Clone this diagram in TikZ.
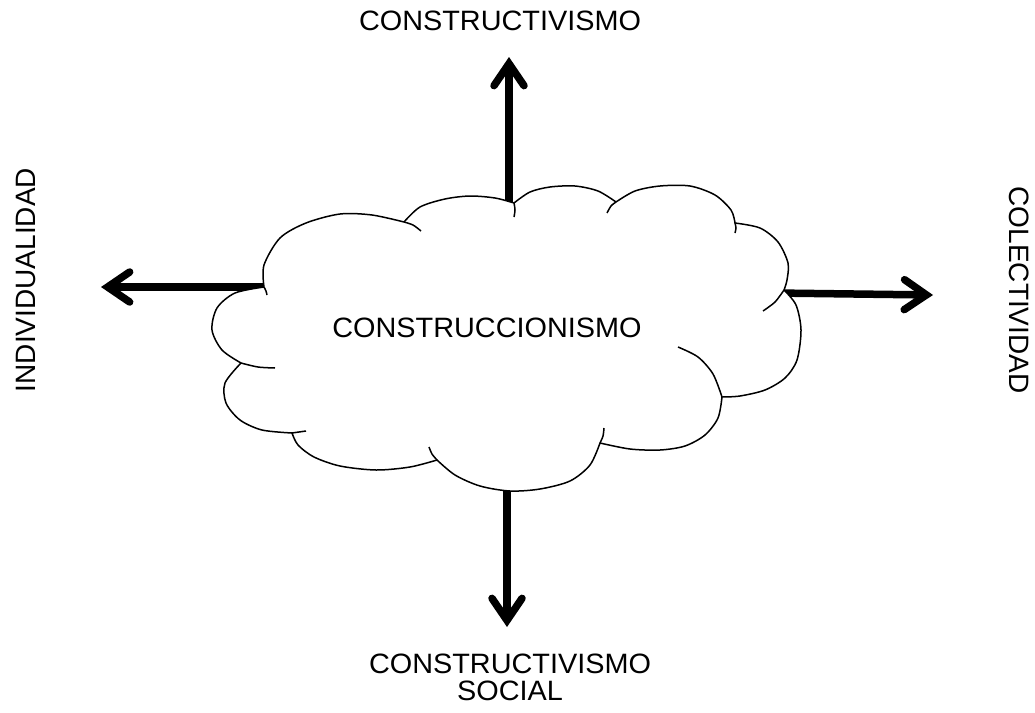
\documentclass[tikz,border=0pt]{standalone}
\usepackage{fontspec}
\setmainfont{Liberation Sans}
\usetikzlibrary{arrows.meta}
\tikzset{
  arr/.style={line width=7.5pt, line cap=round,
    -{Straight Barb[length=22pt,width=30pt,line cap=round,line join=miter]}},
  cloudline/.style={line width=1.5pt, line join=round},
  lbl/.style={inner sep=0pt, font=\fontsize{28pt}{27pt}\selectfont, align=center},
  vlbl/.style={inner sep=0pt, font=\fontsize{28pt}{27pt}\selectfont},
}
\begin{document}
\begin{tikzpicture}[x=1pt,y=-1pt]
\useasboundingbox (0,0) rectangle (1035,712);
% arrow end points
\coordinate (upS) at (509,215);
\coordinate (upT) at (509,57);
\coordinate (dnS) at (507,475);
\coordinate (dnT) at (507,627);
\coordinate (lfS) at (275,287);
\coordinate (lfT) at (101,287);
\coordinate (rtS) at (775,293);
\coordinate (rtT) at (933,295);
\draw[arr] (upS) -- (upT);
\draw[arr] (dnS) -- (dnT);
\draw[arr] (lfS) -- (lfT);
\draw[arr] (rtS) -- (rtT);
% cloud
\filldraw[cloudline, fill=white]
  plot[smooth] coordinates {(264,287) (264,265) (280,238) (306,223) (340,214) (372,215) (404,222)}
  -- plot[smooth] coordinates {(404,222) (420,207) (445,199) (470,196) (495,198) (514,203)}
  -- plot[smooth] coordinates {(514,203) (530,192) (550,187) (575,186) (598,191) (616,202)}
  -- plot[smooth] coordinates {(616,202) (635,191) (660,186) (690,186) (715,195) (731,210) (735,223)}
  -- plot[smooth] coordinates {(735,223) (760,228) (778,242) (788,263) (787,280) (784,290)}
  -- plot[smooth] coordinates {(784,290) (796,305) (801,330) (797,360) (785,378) (765,390) (740,396) (722,397)}
  -- plot[smooth] coordinates {(722,397) (718,418) (705,435) (685,446) (660,450) (630,449) (600,443)}
  -- plot[smooth] coordinates {(600,443) (590,465) (570,481) (540,489) (510,491) (480,486) (455,475) (437,460)}
  -- plot[smooth] coordinates {(437,460) (410,467) (376,470) (340,466) (314,457) (298,445) (292,433)}
  -- plot[smooth] coordinates {(292,433) (262,430) (240,420) (226,403) (225,383) (241,363)}
  -- plot[smooth] coordinates {(241,363) (222,350) (212,330) (217,308) (235,293) (264,287)}
  -- cycle;
% inner arcs
\draw[cloudline] plot[smooth] coordinates {(404,222) (413,225) (421,231)};
\draw[cloudline] plot[smooth] coordinates {(514,203) (515,210) (514,217)};
\draw[cloudline] plot[smooth] coordinates {(616,202) (611,206) (607,213)};
\draw[cloudline] plot[smooth] coordinates {(735,223) (736,228) (735,233)};
\draw[cloudline] plot[smooth] coordinates {(784,290) (775,302) (763,311)};
\draw[cloudline] plot[smooth] coordinates {(678,347) (698,357) (713,374) (722,397)};
\draw[cloudline] plot[smooth] coordinates {(604,428) (603,436) (600,443)};
\draw[cloudline] plot[smooth] coordinates {(429,447) (432,454) (437,460)};
\draw[cloudline] plot[smooth] coordinates {(292,433) (299,432) (306,431)};
\draw[cloudline] plot[smooth] coordinates {(241,363) (258,367) (275,368)};
\draw[cloudline] plot[smooth] coordinates {(264,287) (266,291) (267,295)};
% labels
\node[lbl] (center) at (487,328) {\scalebox{1.03}[1]{CONSTRUCCIONISMO}};
\node[lbl] (top) at (500,21) {\scalebox{1.03}[1]{CONSTRUCTIVISMO}};
\node[lbl] (bottom) at (510,677) {\scalebox{1.03}[1]{CONSTRUCTIVISMO}\\\scalebox{1.03}[1]{SOCIAL}};
\node[vlbl, rotate=90] (left) at (26,280) {INDIVIDUALIDAD};
\node[vlbl, rotate=-90] (right) at (1019,290) {COLECTIVIDAD};
\end{tikzpicture}
\end{document}
